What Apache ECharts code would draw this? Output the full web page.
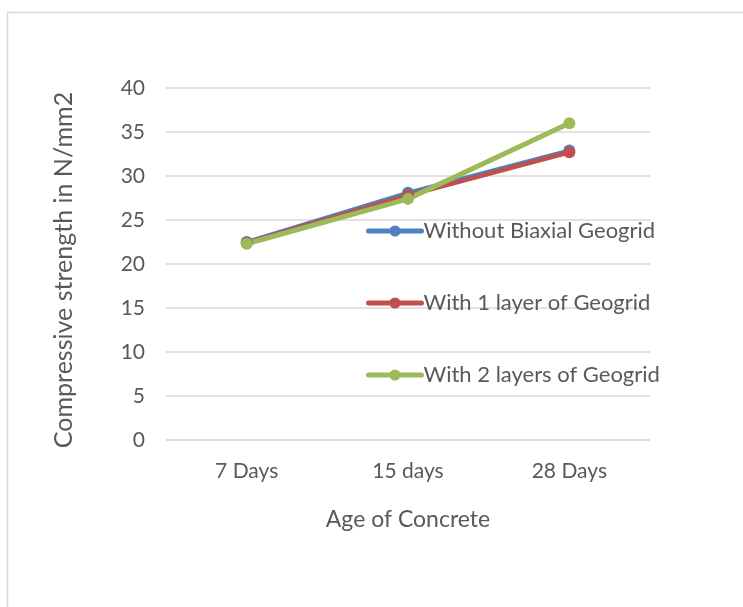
<!DOCTYPE html>
<html><head><meta charset="utf-8">
<script src="https://cdn.jsdelivr.net/npm/echarts@6/dist/echarts.min.js"></script>
<style>html,body{margin:0;padding:0;background:#fff}#c{width:743px;height:607px}</style>
</head><body><div id="c"></div>
<script>
const categories = ['7 Days', '15 days', '28 Days'];
const withoutGeogrid = [22.5, 28.1, 32.9];
const oneLayer = [22.4, 27.8, 32.7];
const twoLayers = [22.3, 27.4, 36.0];
const seriesNames = ['Without Biaxial Geogrid', 'With 1 layer of Geogrid', 'With 2 layers of Geogrid'];
const colors = ['#4F81BD', '#C0504D', '#9BBB59'];

const FONT = "Lato, 'Liberation Sans', sans-serif";
const chart = echarts.init(document.getElementById('c'));
function mk(name, data, color, w) {
  return {
    name: name, type: 'line', data: data,
    symbol: 'circle', symbolSize: 12,
    itemStyle: { color: color },
    lineStyle: { color: color, width: w, cap: 'round', join: 'round' },
    animation: false
  };
}
chart.setOption({
  animation: false,
  textStyle: { fontFamily: FONT },
  graphic: [{
    type: 'rect', left: 5, top: 10,
    shape: { width: 800, height: 700 },
    style: { fill: 'none', stroke: '#d9d9d9', lineWidth: 1.5 },
    silent: true
  }],
  grid: { left: 166, right: 93, top: 88, bottom: 167 },
  legend: {
    orient: 'vertical', left: 361, top: 215,
    itemWidth: 53, itemHeight: 14, itemGap: 50,
    lineStyle: { width: 5, cap: 'round' },
    textStyle: { fontFamily: FONT, fontSize: 22, color: '#595959', padding: [0, 0, 0, -3] },
    data: seriesNames
  },
  xAxis: {
    type: 'category', data: categories,
    name: 'Age of Concrete', nameLocation: 'middle', nameGap: 68,
    nameTextStyle: { fontFamily: FONT, fontSize: 23, color: '#595959' },
    axisLine: { lineStyle: { color: '#d9d9d9', width: 1.5 } },
    axisTick: { show: false },
    axisLabel: { fontFamily: FONT, fontSize: 21, color: '#595959', margin: 21 }
  },
  yAxis: {
    type: 'value', min: 0, max: 40, interval: 5,
    name: 'Compressive strength in N/mm2', nameLocation: 'middle', nameGap: 90,
    nameTextStyle: { fontFamily: FONT, fontSize: 25, color: '#595959', padding: [0, 12, 0, 0] },
    axisLine: { show: false }, axisTick: { show: false },
    axisLabel: { fontFamily: FONT, fontSize: 21, color: '#595959', margin: 21 },
    splitLine: { lineStyle: { color: '#d9d9d9', width: 1.5 } }
  },
  series: [
    mk(seriesNames[0], withoutGeogrid, colors[0], 4),
    mk(seriesNames[1], oneLayer, colors[1], 4.5),
    mk(seriesNames[2], twoLayers, colors[2], 5)
  ]
});
</script></body></html>
